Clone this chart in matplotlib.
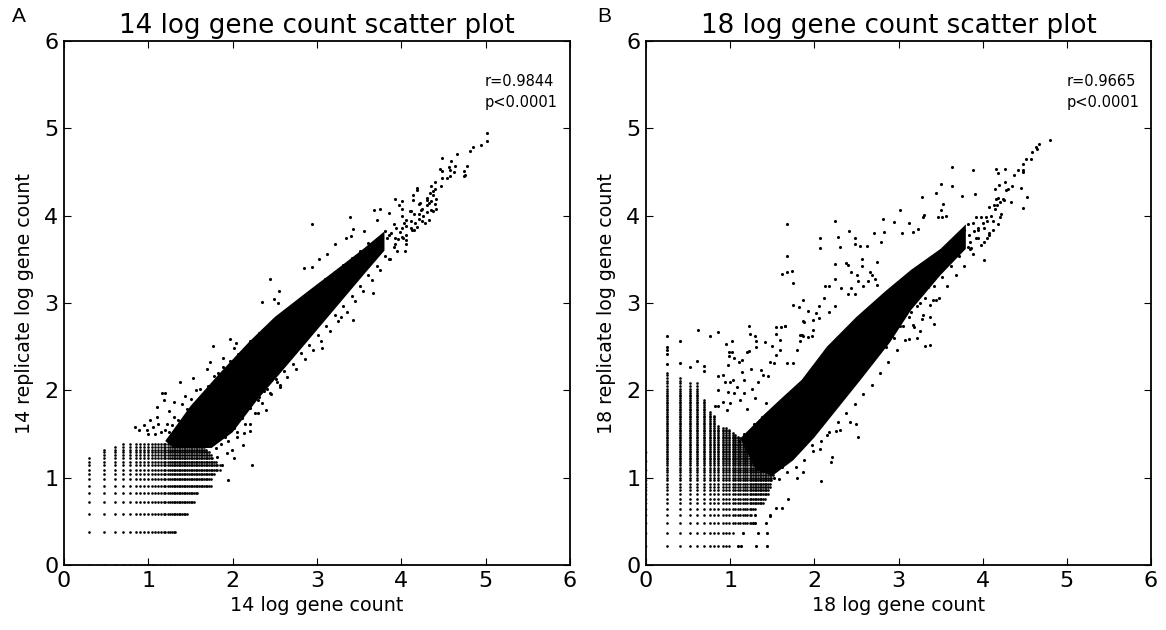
import numpy as np
import matplotlib
matplotlib.use("Agg")
import matplotlib.pyplot as plt

titles = ["14 log gene count scatter plot", "18 log gene count scatter plot"]
xlabels = ["14 log gene count", "18 log gene count"]
ylabels = ["14 replicate log gene count", "18 replicate log gene count"]
stats = [["r=0.9844", "p<0.0001"], ["r=0.9665", "p<0.0001"]]
panel_letters = ["A", "B"]
ticks = [0, 1, 2, 3, 4, 5, 6]

# Panel A: discrete low-count columns and rows
a_cols = [.30,.48,.60,.70,.78,.85,.90,.95,1.00,1.04,1.08,1.11,1.15,1.18,1.20,1.23,1.26,1.28,1.30,1.32,1.34,1.36,1.38,1.40,1.42,1.44,1.46,1.48,1.50,1.52,1.54,1.56,1.58,1.60,1.62,1.64,1.66,1.68,1.70,1.72,1.74,1.76,1.78,1.80,1.82,1.85]
a_col_top = [1.22,1.32,1.37,1.53,1.47,1.58,1.50,1.48,1.45,1.42,1.42,1.40,1.40,1.40,1.40,1.40,1.40,1.40,1.40,1.40,1.40,1.40,1.40,1.40,1.40,1.40,1.38,1.38,1.38,1.38,1.38,1.38,1.38,1.38,1.38,1.38,1.36,1.34,1.30,1.30,1.26,1.22,1.18,1.18,1.14,1.14]
a_rows = [.38,.58,.72,.82,.91,.99,1.04,1.09,1.14,1.18,1.22,1.26,1.29,1.32,1.35,1.38]
a_row_right = [1.32,1.46,1.55,1.59,1.74,1.75,1.79,1.85,1.87,1.80,1.78,1.76,1.76,1.76,1.76,1.76]

# Panel A: solid part of the cloud
a_core_x = [1.20,1.50,1.85,2.20,2.50,2.90,3.20,3.55,3.80,3.80,3.55,3.20,2.85,2.55,2.30,2.00,1.75,1.30]
a_core_y = [1.42,1.82,2.20,2.56,2.84,3.14,3.36,3.62,3.82,3.60,3.32,2.92,2.52,2.18,1.90,1.52,1.34,1.34]

# Panel A: individually read points
a_x = [5.01,5.01,4.94,4.85,4.82,4.66,4.48,4.59,4.64,4.78,4.57,4.46,4.48,4.58,4.62,4.74,4.76,4.74,4.58,4.54,4.48,4.40,4.35,4.47,4.40,4.38,4.19,4.18,4.14,4.34,4.30,4.41,3.93,4.01,4.14,4.22,4.40,4.41,4.38,3.97,4.01,3.67,3.75,3.85,4.10,4.33,3.39,2.94,3.71,3.43,4.18,3.56,4.06,3.40,3.34,3.21,4.02,4.06,4.04,3.87,3.12,3.02,2.94,2.85,2.44,2.55,3.66,2.49,2.35,2.54,3.43,3.29,1.97,2.04,3.06,1.77,1.20,1.38,1.18,1.10,1.02,2.23,1.94,2.02,1.87,2.12,2.21,2.39,2.30,2.56,.84,.89,1.30,1.44,1.53,1.69,1.73,1.89,2.01,1.57,1.24,1.10,1.16,1.99,1.81,1.93,2.13,2.05,2.21,2.30,2.44,2.37,2.52]
a_y = [4.95,4.85,4.81,4.79,4.74,4.71,4.66,4.63,4.57,4.57,4.56,4.54,4.51,4.52,4.50,4.51,4.47,4.45,4.45,4.43,4.43,4.38,4.34,4.34,4.31,4.28,4.32,4.29,4.24,4.26,4.18,4.19,4.19,4.17,4.18,4.14,4.13,4.08,4.05,4.12,4.08,4.07,4.08,4.03,4.05,3.95,3.98,3.91,3.95,3.85,3.87,3.83,3.78,3.77,3.74,3.67,3.74,3.68,3.59,3.50,3.56,3.50,3.41,3.40,3.27,3.14,3.12,3.05,3.01,3.00,2.80,2.84,2.59,2.54,2.48,2.51,1.97,2.09,1.89,1.81,1.66,1.14,.97,1.22,1.14,1.37,1.53,1.78,1.74,2.04,1.58,1.55,1.87,1.93,2.14,2.25,2.33,2.37,2.48,2.00,1.76,1.70,1.97,1.32,1.24,1.28,1.51,1.47,1.62,1.89,1.97,1.99,2.10]

# Panel A: points along the edges and in the upper tail of the cloud
a_fringe_x = [1.22,1.30,1.35,1.40,1.46,1.51,1.56,1.61,1.64,1.71,1.76,1.78,1.83,1.88,1.93,1.97,2.03,2.06,2.11,2.14,2.21,2.25,2.31,2.36,2.41,2.45,2.51,2.55,2.61,2.66,2.70,2.76,2.81,2.85,2.91,2.96,3.01,3.05,3.10,3.16,3.21,3.25,3.31,3.35,3.41,3.46,3.51,3.54,3.61,3.64,3.71,3.74,3.81,3.85,3.91,3.94,4.01,4.05,4.11,4.15,4.21,4.25,4.31,4.35,
              1.80,1.86,1.91,1.95,2.01,2.05,2.11,2.15,2.21,2.26,2.31,2.35,2.41,2.45,2.51,2.56,2.61,2.65,2.71,2.75,2.81,2.86,2.91,2.95,3.01,3.05,3.11,3.15,3.21,3.25,3.31,3.35,3.41,3.45,3.51,3.55,3.61,3.65,3.71,3.75,3.81,3.85,3.91,3.95,4.01,4.05,4.11,4.15,4.21,4.25,4.31,4.35,
              3.93,3.88,3.96,4.01,3.99,4.06,4.11,4.16,4.21,4.26,4.31,3.83,3.93,4.03,4.13,4.23,4.28,4.33,4.38,
              1.05,1.12,1.00,.95,.98,1.08,1.15,1.20,1.25,1.28]
a_fringe_y = [1.62,1.70,1.66,1.84,1.79,1.90,1.86,2.01,1.94,2.05,2.02,2.16,2.20,2.27,2.20,2.34,2.30,2.42,2.36,2.47,2.56,2.53,2.66,2.61,2.72,2.68,2.83,2.78,2.90,2.85,2.96,2.91,3.02,2.98,3.12,3.07,3.20,3.15,3.28,3.22,3.36,3.30,3.43,3.37,3.52,3.47,3.60,3.55,3.69,3.62,3.73,3.69,3.82,3.78,3.90,3.86,4.00,3.95,4.05,4.02,4.13,4.08,4.20,4.17,
              1.34,1.38,1.46,1.42,1.57,1.52,1.68,1.62,1.80,1.74,1.92,1.85,2.02,1.96,2.13,2.06,2.22,2.15,2.30,2.24,2.43,2.36,2.52,2.46,2.63,2.56,2.74,2.68,2.86,2.79,2.96,2.90,3.08,3.02,3.20,3.14,3.32,3.26,3.42,3.38,3.54,3.50,3.64,3.60,3.76,3.72,3.86,3.84,3.96,3.94,4.04,4.06,
              3.74,3.80,3.73,3.86,3.81,3.88,3.94,3.92,4.02,4.00,4.12,3.74,3.68,3.92,3.84,4.06,3.92,4.14,4.24,
              1.58,1.62,1.50,1.60,1.55,1.50,1.52,1.55,1.52,1.60]

# Panel B: discrete low-count columns and rows
b_cols = [.245,.405,.52,.61,.69,.755,.81,.86,.91,.95,.99,1.03,1.06,1.09,1.12,1.15,1.18,1.20,1.23,1.25,1.27,1.29,1.31,1.33,1.35,1.37,1.39,1.41,1.43,1.45,1.47,1.49,1.51,1.53]
b_col_top = [2.20,2.15,2.10,2.08,1.90,1.75,1.72,1.60,1.58,1.58,1.56,1.52,1.50,1.48,1.46,1.44,1.42,1.40,1.38,1.36,1.34,1.32,1.30,1.28,1.26,1.24,1.22,1.20,1.18,1.16,1.14,1.10,1.05,1.00]
b_rows = [.22,.37,.48,.57,.64,.71,.76,.81,.855,.895,.93,.97,1.00,1.03,1.06,1.09,1.115,1.14,1.165,1.19,1.21,1.23,1.25,1.27,1.29,1.31,1.33,1.35,1.37,1.39,1.41,1.43,1.45,1.47,1.49,1.51,1.53,1.55,1.57,1.59,1.61,1.63,1.65,1.67,1.69,1.71,1.73,1.75,1.77,1.79,1.81,1.83,1.85,1.87,1.89,1.91,1.93,1.95,1.97,1.99,2.02,2.05,2.08,2.11,2.14,2.17,2.20]
b_row_right = [1.00,1.03,1.25,1.25,1.30,1.40,1.42,1.45,1.45,1.47,1.47,1.50,1.50]+[1.53]*54

# Panel B: solid part of the cloud
b_core_x = [1.12,1.40,1.60,1.85,2.15,2.50,2.85,3.15,3.50,3.80,3.80,3.50,3.15,2.90,2.55,2.30,2.00,1.75,1.50,1.30]
b_core_y = [1.45,1.72,1.90,2.12,2.50,2.84,3.14,3.38,3.62,3.90,3.62,3.32,2.92,2.55,2.12,1.82,1.46,1.20,1.02,1.10]

# Panel B: individually read points
b_x = [4.80,4.67,4.63,4.64,4.59,4.51,4.57,4.48,4.42,4.48,4.48,4.37,3.64,3.88,4.16,4.26,4.18,4.26,4.19,4.45,3.51,3.63,3.44,4.28,4.15,3.28,4.53,3.76,3.91,4.16,4.24,4.34,4.17,3.53,4.48,3.02,3.51,3.30,3.29,3.47,3.52,3.56,4.20,2.81,2.24,2.95,3.13,1.68,2.41,2.83,2.71,3.04,3.17,3.23,4.12,2.28,2.07,2.48,2.07,2.30,2.48,2.54,2.62,2.79,1.68,2.57,2.25,2.38,2.40,2.57,2.75,4.01,1.61,1.68,1.73,1.75,2.24,2.13,2.18,2.32,2.43,2.51,2.66,2.68,2.52,2.64,2.72,2.74,2.58,2.44,2.48,2.40,1.86,1.75,1.82,1.93,2.12,2.05,2.24,2.18,2.02,1.99,1.88,2.05,1.65,1.60,1.99,1.83,1.93,1.87,1.83,3.41,3.45,3.29,3.38,3.42,3.17,3.26,3.22,3.32,3.37,3.12,3.86,4.02,4.05,4.08,
       .62,.76,.86,1.22,1.02,.95,1.23,1.54,1.65,1.30,1.31,1.41,1.54,1.59,1.50,1.31,.99,1.02,1.20,1.22,.99,.98,1.04,1.10,1.14,1.59,1.55,1.25,1.14,1.37,1.47,1.52,.86,.91,.94,1.00,.86,1.03,1.16,1.08,1.26,1.33,1.39,1.45,.98,1.04,1.16,1.29,.92,1.00,1.12,.82,.86,.96,1.43,1.20,1.67,1.75,1.79,1.87,1.85,1.97,
       2.08,2.21,2.20,1.87,1.79,1.69,1.61,1.54,1.47,1.97,2.07,2.26,2.42,2.52,2.49,2.30,2.15,.245,.245,.245,.245,.245,.405,.405,.52,.61,.69,.69,
       1.09,1.13,1.31,1.44,1.15,1.33,1.44,1.27,1.30,1.43,1.30,1.47]
b_y = [4.87,4.82,4.79,4.76,4.73,4.65,4.65,4.59,4.52,4.52,4.50,4.46,4.56,4.52,4.53,4.53,4.49,4.39,4.35,4.32,4.36,4.34,4.26,4.29,4.30,4.21,4.21,4.23,4.25,4.19,4.19,4.16,4.12,4.13,4.09,4.07,4.06,4.01,3.98,3.99,3.98,4.00,3.99,3.96,3.94,3.93,3.92,3.90,3.83,3.81,3.80,3.80,3.81,3.85,3.84,3.76,3.74,3.74,3.63,3.64,3.68,3.65,3.65,3.70,3.54,3.50,3.45,3.46,3.43,3.42,3.47,3.49,3.33,3.36,3.37,3.23,3.27,3.20,3.19,3.17,3.36,3.32,3.36,3.32,3.25,3.25,3.28,3.21,3.19,3.17,3.10,3.10,3.03,2.98,2.95,2.91,3.06,2.97,2.96,2.90,2.89,2.81,2.78,2.83,2.74,2.73,2.69,2.63,2.61,2.62,2.56,3.04,3.03,2.86,2.84,2.76,2.75,2.68,2.60,2.51,2.52,2.59,3.63,3.70,3.74,3.80,
       2.69,2.62,2.67,2.74,2.57,2.53,2.65,2.73,2.74,2.62,2.57,2.55,2.65,2.58,2.51,2.50,2.44,2.44,2.44,2.45,2.39,2.29,2.37,2.33,2.35,2.46,2.40,2.24,2.21,2.23,2.33,2.31,2.16,2.18,2.10,2.09,2.00,2.12,2.12,2.04,2.02,2.10,2.18,2.16,1.98,1.97,1.97,1.91,1.87,1.85,1.89,1.82,1.82,1.77,1.85,1.79,2.31,2.31,2.46,2.79,2.63,2.62,
       .96,1.24,1.18,1.07,1.00,.76,.65,.65,.56,1.37,1.33,1.53,1.64,1.46,1.61,1.55,1.49,2.62,2.50,2.46,2.42,2.30,2.57,2.31,2.27,2.34,2.28,2.22,
       .22,.22,.22,.22,.37,.37,.37,.48,.48,.48,.57,.57]

# Panel B: points along the edges and in the upper tail of the cloud
b_fringe_x = [1.10,1.16,1.22,1.28,1.34,1.38,1.44,1.48,1.54,1.58,1.64,1.68,1.74,1.78,1.84,1.88,1.94,1.98,2.04,2.08,2.14,2.18,2.24,2.28,2.34,2.38,2.44,2.48,2.54,2.58,2.64,2.68,2.74,2.78,2.84,2.88,2.94,2.98,3.04,3.08,3.14,3.18,3.24,3.28,3.34,3.38,3.44,3.48,3.54,3.58,3.64,3.68,3.74,3.78,3.84,3.88,3.94,3.98,4.04,4.08,4.14,4.18,
              1.52,1.58,1.62,1.68,1.72,1.78,1.82,1.88,1.92,1.98,2.02,2.08,2.12,2.18,2.22,2.28,2.32,2.38,2.42,2.48,2.52,2.58,2.62,2.68,2.72,2.78,2.82,2.88,2.92,2.98,3.02,3.08,3.12,3.18,3.22,3.28,3.32,3.38,3.42,3.48,3.52,3.58,3.62,3.68,3.72,3.78,3.82,3.88,3.92,3.98,4.02,4.08,4.12,4.18,4.22,
              3.85,3.90,3.82,3.95,4.00,3.92,3.85,3.95,4.05,4.10,4.15,4.20,4.25,4.30,4.35,
              2.60,2.70,2.45,2.35,2.25,2.15,2.05,1.95,1.85,2.80,2.90,3.00,3.10,3.20,3.30,3.35,3.25,3.15,3.05,2.95,2.85]
b_fringe_y = [1.42,1.50,1.46,1.62,1.56,1.70,1.64,1.76,1.70,1.84,1.78,1.90,1.84,2.00,1.94,2.10,2.02,2.18,2.10,2.28,2.18,2.38,2.30,2.46,2.38,2.58,2.50,2.66,2.58,2.76,2.68,2.86,2.78,2.94,2.86,3.02,2.96,3.12,3.06,3.20,3.12,3.30,3.22,3.36,3.30,3.44,3.40,3.54,3.50,3.66,3.56,3.74,3.68,3.84,3.78,3.92,3.86,3.98,3.98,4.10,4.12,4.20,
              1.00,.98,1.12,1.06,1.24,1.12,1.34,1.20,1.48,1.30,1.58,1.42,1.72,1.52,1.84,1.64,1.94,1.74,2.06,1.84,2.18,1.96,2.30,2.06,2.40,2.20,2.50,2.32,2.62,2.46,2.74,2.58,2.84,2.72,2.96,2.82,3.06,2.98,3.20,3.06,3.30,3.20,3.42,3.32,3.54,3.42,3.64,3.56,3.74,3.66,3.86,3.78,3.94,3.90,4.02,
              3.62,3.82,3.90,3.74,3.92,3.98,3.70,3.84,3.94,4.00,4.08,4.16,4.18,4.30,4.34,
              2.56,2.66,2.42,2.26,2.18,2.02,1.94,1.76,1.62,2.76,2.86,2.94,3.04,3.12,3.30,3.18,3.00,2.90,2.74,2.60,2.50]

# Panel A and B: marks lying on the axes, where one of the two counts is zero
a_axis_x = [.30,.48,.60,.70,.78,.85,.90,.95,1.00,1.04,1.08,1.15,1.20,1.26,1.30]
b_axis_y = [.22,.37,.48,.57,.64,.71,.76,.81,.855,.895,.93,.97,1.00,1.09,1.19,1.29]

panels = [(a_cols, a_col_top, a_rows, a_row_right, a_core_x, a_core_y, a_x + a_fringe_x, a_y + a_fringe_y),
          (b_cols, b_col_top, b_rows, b_row_right, b_core_x, b_core_y, b_x + b_fringe_x, b_y + b_fringe_y)]

plt.rcParams["font.family"] = "DejaVu Sans"
fig = plt.figure(figsize=(11.66, 6.30), dpi=100)
W, H = 1166, 630
boxes = [(64, 570), (646, 1151)]
top, bottom = 41, 565
letter_x = [12, 597]
stat_x = [485, 1067]

for i, (l, r) in enumerate(boxes):
    ax = fig.add_axes([l / W, 1 - bottom / H, (r - l) / W, (bottom - top) / H])
    cols, col_top, rows, row_right, cx, cy, px, py = panels[i]
    ax.fill(cx, cy, color="black", lw=0, zorder=2)
    lx, ly = [], []
    for rv, rr in zip(rows, row_right):
        for cv, ct in zip(cols, col_top):
            if cv <= rr and rv <= ct:
                lx.append(cv)
                ly.append(rv)
    ax.scatter(lx, ly, s=3.6, c="black", linewidths=0, zorder=3)
    ax.scatter(px, py, s=5, c="black", linewidths=0, zorder=3)
    if i == 0:
        ax.scatter(a_axis_x, [0] * len(a_axis_x), s=2, c="#555555", linewidths=0, zorder=1)
    else:
        ax.scatter([0] * len(b_axis_y), b_axis_y, s=2, c="#555555", linewidths=0, zorder=1)
    ax.set_xlim(0, 6)
    ax.set_ylim(0, 6)
    ax.set_xticks(ticks)
    ax.set_yticks(ticks)
    ax.tick_params(direction="in", top=True, right=True, length=5, width=0.8, labelsize=16, pad=4)
    for s in ax.spines.values():
        s.set_linewidth(1.3)
    ax.set_title(titles[i], fontsize=18.8, pad=6)
    ax.set_xlabel(xlabels[i], fontsize=13.8, labelpad=4)
    ax.set_ylabel(ylabels[i], fontsize=13.7, labelpad=7)
    fig.text(stat_x[i] / W, 1 - 82 / H, stats[i][0], ha="left", va="center", fontsize=10.5)
    fig.text(stat_x[i] / W, 1 - 102 / H, stats[i][1], ha="left", va="center", fontsize=10.5)
    fig.text(letter_x[i] / W, 1 - 17 / H, panel_letters[i], fontsize=15, family="Liberation Sans", ha="left", va="center")

fig.savefig("out.png", dpi=100)
